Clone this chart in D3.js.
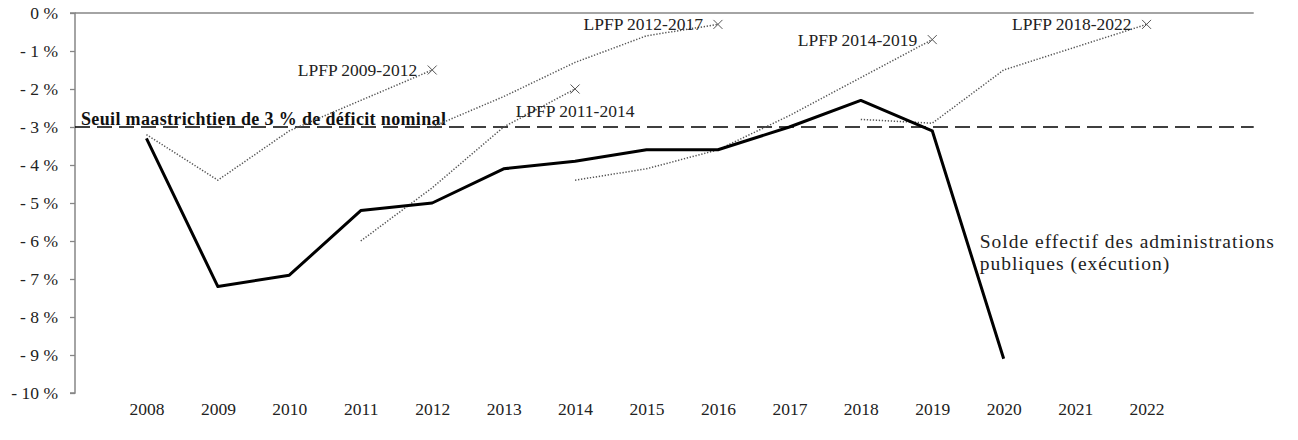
<!DOCTYPE html>
<html lang="fr">
<head>
<meta charset="utf-8">
<script src="https://cdn.jsdelivr.net/npm/d3@7/dist/d3.min.js"></script>
<style>
  html, body { margin: 0; padding: 0; background: #fff; }
  svg { display: block; font-family: "Liberation Serif", "Times New Roman", serif; }
</style>
</head>
<body>
<div id="chart"></div>
<script>
// categories (x axis labels)
const years = [2008, 2009, 2010, 2011, 2012, 2013, 2014, 2015, 2016, 2017, 2018, 2019, 2020, 2021, 2022];
const yTicks = [0, -1, -2, -3, -4, -5, -6, -7, -8, -9, -10];

// solde effectif des APU (exécution), 2008-2020
const soldeStart = 2008;
const solde = [-3.3, -7.2, -6.9, -5.2, -5.0, -4.1, -3.9, -3.6, -3.6, -3.0, -2.3, -3.1, -9.1];

// trajectoires des LPFP
const lpfp0912 = [-3.2, -4.4, -3.1, -2.3, -1.5];        // 2008-2012
const lpfp1114 = [-6.0, -4.6, -3.0, -2.0];              // 2011-2014
const lpfp1217 = [-3.0, -2.2, -1.3, -0.6, -0.3];        // 2012-2016
const lpfp1419 = [-4.4, -4.1, -3.6, -2.7, -1.7, -0.7];  // 2014-2019
const lpfp1822 = [-2.8, -2.9, -1.5, -0.9, -0.3];        // 2018-2022

const seuil = -3;

const plans = [
  { name: "LPFP 2009-2012", start: 2008, values: lpfp0912 },
  { name: "LPFP 2011-2014", start: 2011, values: lpfp1114 },
  { name: "LPFP 2012-2017", start: 2012, values: lpfp1217 },
  { name: "LPFP 2014-2019", start: 2014, values: lpfp1419 },
  { name: "LPFP 2018-2022", start: 2018, values: lpfp1822 }
];
const labelBelow = new Set(["LPFP 2011-2014"]);

const width = 1298;
const height = 440;
const fontSize = 17.5;
const axisColor = "#868686";
const planColor = "#555";

const svg = d3.select("#chart")
  .append("svg")
  .attr("width", width)
  .attr("height", height);

const x = d3.scaleLinear()
  .domain([2007, 2023])
  .range([75, 1218]);

const y = d3.scaleLinear()
  .domain([-10, 0])
  .range([393, 13]);

// y axis
svg.append("g")
  .attr("transform", `translate(${x(2007)},0)`)
  .call(d3.axisLeft(y)
    .tickValues(yTicks)
    .tickSize(5)
    .tickPadding(12)
    .tickFormat(d => d === 0 ? "0 %" : "- " + Math.abs(d) + " %"))
  .attr("font-family", null)
  .attr("font-size", fontSize)
  .call(g => g.selectAll("text").attr("fill", "#222"))
  .call(g => g.selectAll("line").attr("stroke", axisColor).attr("stroke-width", 1.3))
  .call(g => g.select(".domain").attr("stroke", axisColor).attr("stroke-width", 1.5)
    .attr("d", `M-5,${y(0)}H0V${y(-10)}H-5`));

// x labels (low position)
svg.append("g")
  .attr("transform", `translate(0,${y(-10)})`)
  .call(d3.axisBottom(x)
    .tickValues(years)
    .tickSize(0)
    .tickPadding(10)
    .tickFormat(d3.format("d")))
  .attr("font-family", null)
  .attr("font-size", fontSize)
  .call(g => g.select(".domain").remove())
  .call(g => g.selectAll("text").attr("fill", "#222"));

// horizontal category axis at 0
svg.append("line")
  .attr("x1", x(2007))
  .attr("x2", x(2023.5))
  .attr("y1", y(0))
  .attr("y2", y(0))
  .attr("stroke", axisColor)
  .attr("stroke-width", 1.3);

// seuil de 3 %
svg.append("line")
  .attr("x1", x(2007))
  .attr("x2", x(2023.5))
  .attr("y1", y(seuil))
  .attr("y2", y(seuil))
  .attr("stroke", "#000")
  .attr("stroke-width", 1.5)
  .attr("stroke-dasharray", "15,7");

svg.append("text")
  .attr("x", x(2007) + 6)
  .attr("y", y(seuil) - 2)
  .attr("font-size", 18)
  .attr("letter-spacing", 0.35)
  .attr("font-weight", "bold")
  .attr("fill", "#111")
  .text("Seuil maastrichtien de 3 % de déficit nominal");

const line = d3.line()
  .x(d => x(d.year))
  .y(d => y(d.value));

// LPFP dotted lines
plans.forEach(p => {
  const pts = p.values.map((v, i) => ({ year: p.start + i, value: v }));
  const last = pts[pts.length - 1];

  svg.append("path")
    .datum(pts)
    .attr("d", line)
    .attr("fill", "none")
    .attr("stroke", planColor)
    .attr("stroke-width", 1.5)
    .attr("stroke-dasharray", "1.3,1.7");

  const cx = x(last.year), cy = y(last.value), s = 4.5;
  svg.append("path")
    .attr("d", `M${cx - s},${cy - s}L${cx + s},${cy + s}M${cx - s},${cy + s}L${cx + s},${cy - s}`)
    .attr("stroke", planColor)
    .attr("stroke-width", 1);

  const below = labelBelow.has(p.name);
  svg.append("text")
    .attr("x", below ? cx : cx - 15)
    .attr("y", below ? cy + 28 : cy + 6)
    .attr("text-anchor", below ? "middle" : "end")
    .attr("font-size", fontSize)
    .attr("fill", "#222")
    .text(p.name);
});

// solde effectif
const soldePts = solde.map((v, i) => ({ year: soldeStart + i, value: v }));
svg.append("path")
  .datum(soldePts)
  .attr("d", line)
  .attr("fill", "none")
  .attr("stroke", "#000")
  .attr("stroke-width", 3)
  .attr("stroke-linejoin", "round");

const lx = x(2020) - 24;
const soldeLabel = svg.append("text")
  .attr("x", lx)
  .attr("y", y(-6) + 7)
  .attr("font-size", 19.5)
  .attr("letter-spacing", 1)
  .attr("fill", "#222");
soldeLabel.append("tspan").attr("x", lx).text("Solde effectif des administrations");
soldeLabel.append("tspan").attr("x", lx).attr("dy", 22).text("publiques (exécution)");
</script>
</body>
</html>
